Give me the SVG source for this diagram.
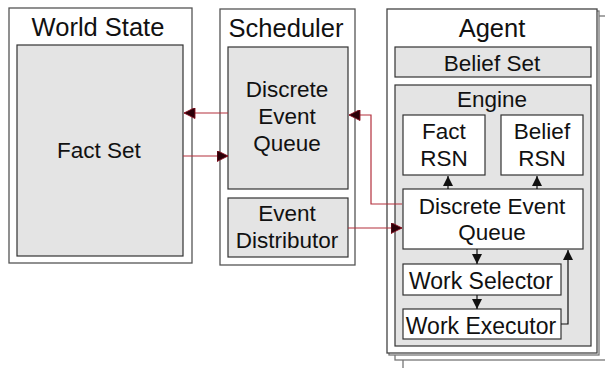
<svg xmlns="http://www.w3.org/2000/svg" width="605" height="368" viewBox="0 0 605 368">
<defs>
<style>
text{font-family:"Liberation Sans",Arial,sans-serif;fill:#111;text-anchor:middle}
.t{font-size:25.5px}
.b{font-size:22.5px}
.outer{fill:#fff;stroke:#555;stroke-width:1.3}
.back{fill:#fff;stroke:#777;stroke-width:1.3}
.inner{fill:#e4e4e4;stroke:#333;stroke-width:1.2}
.white{fill:#fff;stroke:#333;stroke-width:1.2}
.red{fill:none;stroke:#b3303c;stroke-width:1.2}
.blk{fill:none;stroke:#111;stroke-width:1.2}
</style>
<marker id="ar" viewBox="0 0 10 10" refX="10" refY="5" markerWidth="12" markerHeight="11" markerUnits="userSpaceOnUse" orient="auto">
<path d="M0,0 L10,5 L0,10 Z" fill="#2a0008" stroke="#8a1020" stroke-width="0.8"/>
</marker>
<marker id="ab" viewBox="0 0 10 10" refX="10" refY="5" markerWidth="10" markerHeight="10" markerUnits="userSpaceOnUse" orient="auto">
<path d="M0,0 L10,5 L0,10 Z" fill="#111"/>
</marker>
</defs>
<g id="world-state">
<rect class="outer" x="9" y="8" width="183" height="255"/>
<text class="t" x="98" y="36">World State</text>
<g id="fact-set">
<rect class="inner" x="17" y="45" width="166" height="211"/>
<text class="b" x="99" y="158">Fact Set</text>
</g>
</g>
<g id="scheduler">
<rect class="outer" x="220" y="9" width="135" height="256"/>
<text class="t" x="286" y="37">Scheduler</text>
<g id="scheduler-queue">
<rect class="inner" x="228" y="47" width="120" height="142"/>
<text class="b" x="287" y="97">Discrete</text>
<text class="b" x="287" y="124">Event</text>
<text class="b" x="287" y="151">Queue</text>
</g>
<g id="event-distributor">
<rect class="inner" x="228" y="198" width="120" height="59"/>
<text class="b" x="287" y="221">Event</text>
<text class="b" x="287" y="248">Distributor</text>
</g>
</g>
<g id="agent">
<rect class="back" x="403" y="23" width="260" height="400"/>
<rect class="back" x="395" y="16" width="260" height="344"/>
<rect class="back" x="389" y="11" width="210" height="344"/>
<rect class="outer" x="387" y="9" width="210" height="344" style="stroke:#444"/>
<text class="t" x="492" y="37">Agent</text>
<g id="belief-set">
<rect class="inner" x="395" y="47" width="196" height="30"/>
<text class="b" x="492" y="71">Belief Set</text>
</g>
<g id="engine">
<rect class="inner" x="395" y="85" width="196" height="261"/>
<text class="b" x="492" y="107">Engine</text>
<g id="fact-rsn">
<rect class="white" x="403" y="115" width="82" height="60"/>
<text class="b" x="444" y="139">Fact</text>
<text class="b" x="444" y="166">RSN</text>
</g>
<g id="belief-rsn">
<rect class="white" x="501" y="115" width="82" height="60"/>
<text class="b" x="542" y="139">Belief</text>
<text class="b" x="542" y="166">RSN</text>
</g>
<g id="agent-queue">
<rect class="white" x="403" y="189" width="180" height="60"/>
<text class="b" x="492" y="214">Discrete Event</text>
<text class="b" x="492" y="240">Queue</text>
</g>
<g id="work-selector">
<rect class="white" x="403" y="264" width="158" height="31"/>
<text class="b" x="481" y="289" style="font-size:23px">Work Selector</text>
</g>
<g id="work-executor">
<rect class="white" x="403" y="309" width="158" height="30"/>
<text class="b" x="481" y="334" style="font-size:23px">Work Executor</text>
</g>
</g>
</g>
<g id="connectors">
<path class="red" d="M228,113 H184" marker-end="url(#ar)"/>
<path class="red" d="M183,156 H228" marker-end="url(#ar)"/>
<path class="red" d="M402,204 H371 V115 H349" marker-end="url(#ar)"/>
<path class="red" d="M348,228 H402" marker-end="url(#ar)"/>
<path class="blk" d="M448,189 V176" marker-end="url(#ab)"/>
<path class="blk" d="M537,189 V176" marker-end="url(#ab)"/>
<path class="blk" d="M477,249 V264" marker-end="url(#ab)"/>
<path class="blk" d="M477,295 V309" marker-end="url(#ab)"/>
<path class="blk" d="M561,324 H568 V250" marker-end="url(#ab)"/>
</g>
</svg>
